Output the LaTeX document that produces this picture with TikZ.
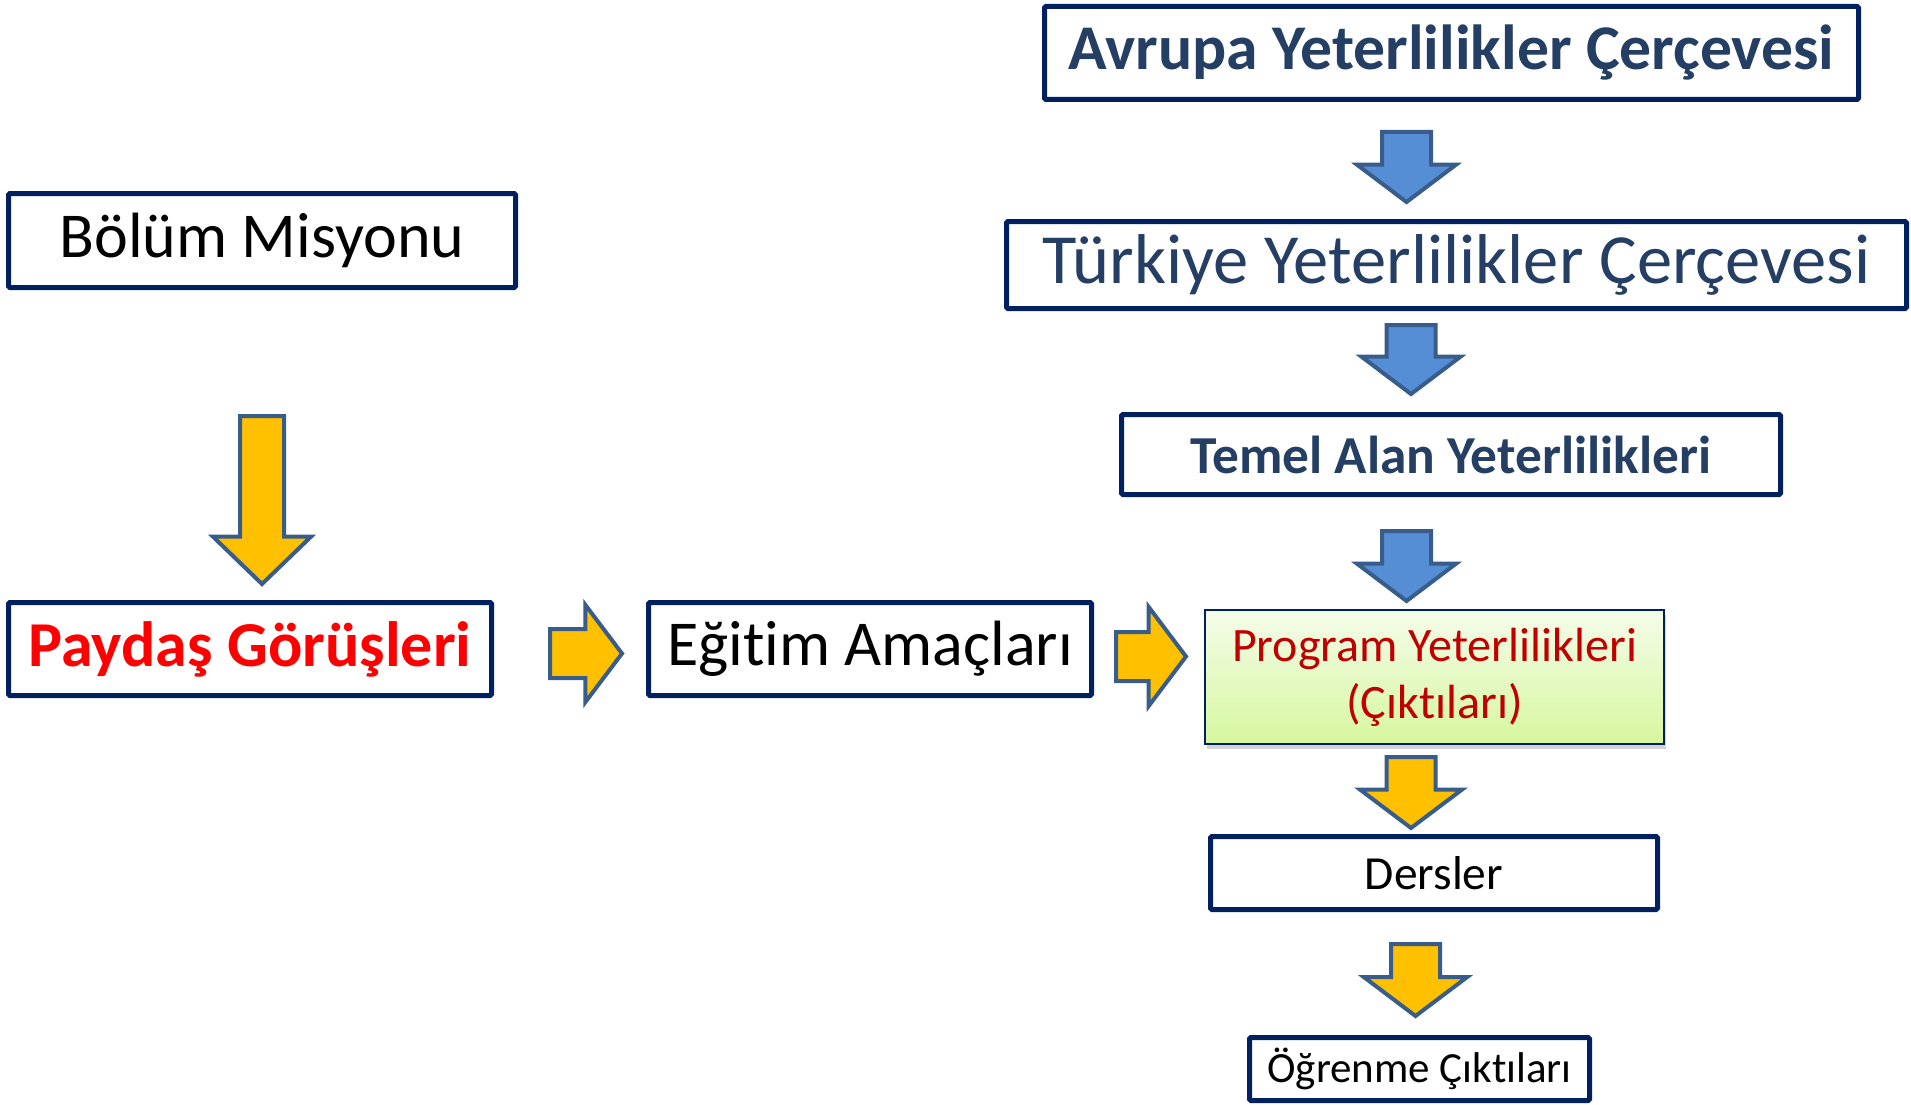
\documentclass[tikz,border=0pt]{standalone}
\usepackage{fontspec}
\setmainfont{Carlito}[Ligatures=NoCommon]
\usetikzlibrary{calc}
\usetikzlibrary{positioning}
\usetikzlibrary{shapes.arrows}
\usetikzlibrary{shadows}
\definecolor{frameLineColor}{RGB}{0,32,96}
\definecolor{titleTextColor}{RGB}{36,62,100}
\definecolor{arrowLineColor}{RGB}{56,93,138}
\definecolor{arrowBlueColor}{RGB}{85,142,213}
\definecolor{arrowYellowColor}{RGB}{255,192,0}
\definecolor{outcomeTextColor}{RGB}{192,0,0}
\definecolor{gradTopColor}{RGB}{244,252,234}
\definecolor{gradBottomColor}{RGB}{214,247,158}
\tikzset{
	frameBox/.style = {
		draw = frameLineColor, line width = 5pt, rounded corners = 1.5pt,
		inner sep = 0pt, align = center
	},
	blockArrow/.style = {
		single arrow, draw = arrowLineColor, line width = 4pt,
		inner xsep = 0pt, inner ysep = 22.5pt,
		single arrow tip angle = 106, single arrow head extend = 25pt,
		minimum height = 70pt, anchor = tail
	},
	blueDown/.style = {blockArrow, fill = arrowBlueColor, rotate = -90},
	yellowDown/.style = {blockArrow, fill = arrowYellowColor, rotate = -90},
	yellowRight/.style = {blockArrow, fill = arrowYellowColor}
}

\begin{document}
\begin{tikzpicture}[x=1pt, y=-1pt]
	\useasboundingbox (0,0) rectangle (1911,1105);

	% right column
	\node [frameBox, minimum width=814pt, minimum height=93pt, text=titleTextColor,
		font=\fontsize{63.7pt}{70pt}\selectfont\bfseries] (avrupa) at (1451.5,53) {Avrupa Yeterlilikler Çerçevesi};
	\node [frameBox, minimum width=900pt, minimum height=87pt, text=titleTextColor,
		font=\fontsize{70.5pt}{76pt}\selectfont] (turkiye) at (1456.5,265) {Türkiye Yeterlilikler Çerçevesi};
	\node [frameBox, minimum width=659pt, minimum height=80pt, text=titleTextColor,
		font=\fontsize{53.4pt}{58pt}\selectfont\bfseries] (temel) at (1451,454.5) {Temel Alan Yeterlilikleri};
	\node [frameBox, line width=2pt, rounded corners=0pt, minimum width=459pt, minimum height=134pt,
		top color=gradTopColor, bottom color=gradBottomColor, text=outcomeTextColor,
		drop shadow={shadow xshift=2pt, shadow yshift=-5pt, opacity=.35},
		font=\fontsize{48pt}{57pt}\selectfont] (program) at (1434.5,677) {Program Yeterlilikleri\\(Çıktıları)};
	\node [frameBox, minimum width=447pt, minimum height=73pt,
		font=\fontsize{47.5pt}{54pt}\selectfont] (dersler) at (1434,873) {Dersler};
	\node [frameBox, minimum width=340pt, minimum height=63pt,
		font=\fontsize{43pt}{48pt}\selectfont] (ogrenme) at (1419.5,1069) {Öğrenme Çıktıları};

	% left part
	\node [frameBox, minimum width=507pt, minimum height=94pt,
		font=\fontsize{64pt}{70pt}\selectfont] (bolum) at (262,240.5) {Bölüm Misyonu};
	\node [frameBox, minimum width=483pt, minimum height=93pt, text=red,
		font=\fontsize{64pt}{70pt}\selectfont\bfseries] (paydas) at (250,649) {Paydaş Görüşleri};
	\node [frameBox, minimum width=443pt, minimum height=93pt,
		font=\fontsize{64pt}{70pt}\selectfont] (egitim) at (870,649) {Eğitim Amaçları};

	% block arrows
	\node [blueDown] (arrowAT) at (1406.5,130) {};
	\node [blueDown, minimum height=69pt] (arrowTT) at (1411,323) {};
	\node [blueDown] (arrowTP) at (1406.5,529) {};
	\node [yellowDown, minimum height=168pt, inner ysep=20pt, single arrow head extend=27pt,
		single arrow tip angle=92] (arrowBP) at (262,414) {};
	\node [yellowRight, minimum height=72pt, single arrow head extend=24pt] (arrowPE) at (548,653.5) {};
	\node [yellowRight] (arrowEP) at (1114,656.5) {};
	\node [yellowDown, minimum height=71pt, single arrow head extend=26.5pt] (arrowPD) at (1411,755) {};
	\node [yellowDown, minimum height=72pt, single arrow head extend=27pt] (arrowDO) at (1415.5,942) {};
\end{tikzpicture}
\end{document}
